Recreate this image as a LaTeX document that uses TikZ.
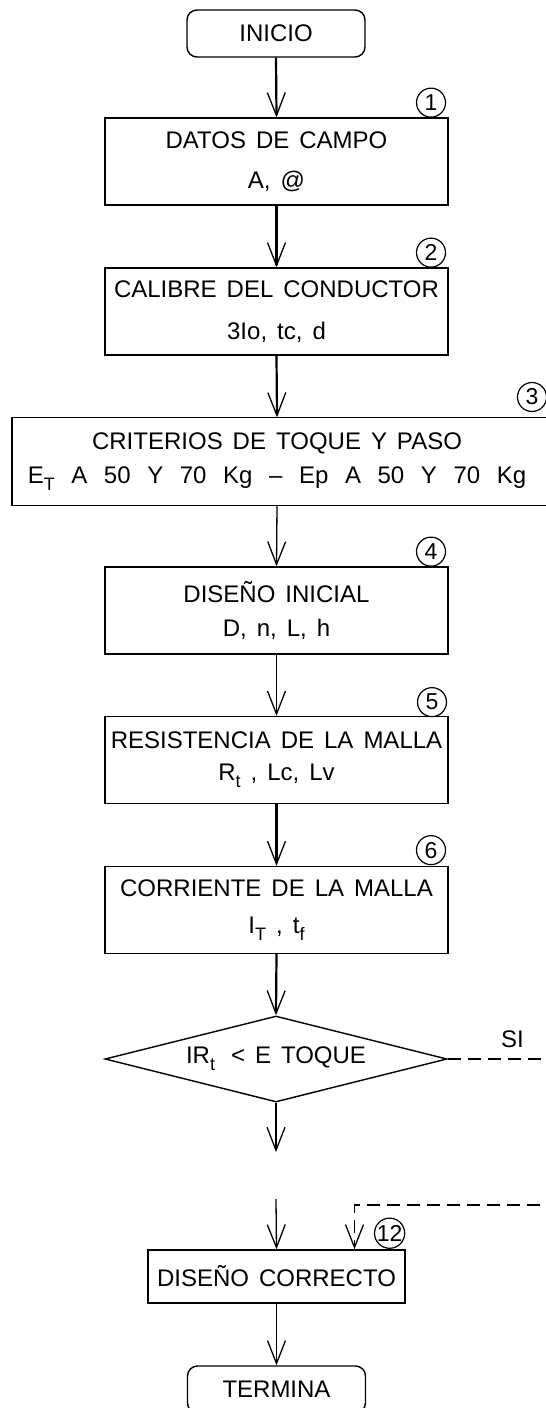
\documentclass[tikz,border=0pt]{standalone}
\usepackage{fontspec}
\setmainfont[WordSpace=1.5]{Liberation Sans}
\usepackage{tikz}
\usetikzlibrary{positioning,arrows.meta,shapes.geometric,calc}
\newcommand{\subtxt}[1]{\raisebox{-0.55ex}{\fontsize{9pt}{9pt}\selectfont #1}}

\begin{document}
\begin{tikzpicture}[
    x=0.5pt, y=-0.5pt,
    txt/.style={font=\fontsize{12pt}{17pt}\selectfont},
    proc/.style={draw, line width=0.7pt, minimum width=171.5pt, minimum height=43.5pt, inner sep=0pt, align=center, txt},
    term/.style={draw, line width=0.7pt, rounded corners=5pt, minimum width=89pt, minimum height=23.5pt, inner sep=0pt, txt},
    decision/.style={draw, line width=0.7pt, diamond, aspect=4, minimum width=171pt, minimum height=43pt, inner sep=0pt, txt},
    num/.style={draw, circle, line width=0.6pt, minimum size=14.5pt, inner sep=0pt, font=\fontsize{11.5pt}{12pt}\selectfont},
    arr/.style={-{Straight Barb[length=11.5pt,width=9pt,line width=0.65pt]}, line width=#1},
    arr/.default=0.65pt,
    dasharr/.style={line width=0.6pt, dash pattern=on 6.5pt off 3.5pt},
]
\useasboundingbox[fill=white] (0,0) rectangle (546,1408);
\clip (0,0) rectangle (546,1408);

% ===== BOXES =====
\node[term] (inicio) at (276, 33.5) {INICIO};
\node[proc] (datos) at (276.5, 161.5) {DATOS DE CAMPO\\[3pt] A, @};
\node[proc] (calibre) at (276.5, 311.5) {CALIBRE DEL CONDUCTOR\\[4pt] 3Io, tc, d};
\node[proc, draw=none, minimum width=264.3pt] (criterios) at (277, 461.5)
    {CRITERIOS DE TOQUE Y PASO\\ {\spaceskip=8.3pt E\subtxt{T} A 50 Y 70 Kg -- Ep A 50 Y 70 Kg}};
\draw[line width=0.7pt] (criterios.north west) rectangle ([xshift=25pt]criterios.south east);
\node[proc] (inicial) at (276.5, 610.5) {DISEÑO INICIAL\\ D, n, L, h};
\node[proc] (resist) at (276.5, 760) {RESISTENCIA DE LA MALLA\\[-1pt] R\subtxt{t} , Lc, Lv};
\node[proc] (corriente) at (276.5, 910) {CORRIENTE DE LA MALLA\\[1.5pt] I\subtxt{T} , t\subtxt{f}};
\node[decision] (toque) at (276, 1059) {IR\subtxt{t}\hspace{8pt}< E TOQUE};
\node[proc, minimum width=128.5pt, minimum height=26.5pt] (correcto) at (276.5, 1276.5) {DISEÑO CORRECTO};
\node[term] (termina) at (276.5, 1389.5) {TERMINA};

% step numbers
\node[num, above left=2pt and 3.5pt of datos.north east] (n1) {1};
\node[num, above left=2pt and 3.5pt of calibre.north east] (n2) {2};
\node[num] (n3) at (532, 397) {3};
\node[num, above left=2pt and 3.5pt of inicial.north east] (n4) {4};
\node[num, above left=1.5pt and 3pt of resist.north east] (n5) {5};
\node[num, above left=2.5pt and 3.5pt of corriente.north east] (n6) {6};
\node[num, minimum size=15pt, above left=2.5pt and 2.5pt of correcto.north east] (n12) {12};

\coordinate (cut) at (276, 1152);
\coordinate (resume) at (276, 1199);
\coordinate (siout) at (600, 1059);
\coordinate (ret) at (600, 1205);

% ===== ARROWS =====
\draw[arr=1.1pt] (inicio.south) -- (datos.north);
\draw[arr=1.1pt] (datos.south) -- (calibre.north);
\draw[arr=1.1pt] (calibre.south) -- (criterios.north);
\draw[arr] (criterios.south) -- (inicial.north);
\draw[arr] (inicial.south) -- (resist.north);
\draw[arr=1.1pt] (resist.south) -- (corriente.north);
\draw[arr=1.1pt] (corriente.south) -- (toque.north);
\draw[arr] (toque.south) -- (cut);
\draw[arr] (resume) -- (correcto.north);
\draw[arr] (correcto.south) -- (termina.north);
\draw[dasharr] (toque.east) -- (siout) node[txt, pos=0.425, above=2pt] (si) {SI};
\draw[dasharr, arr] (ret) -| ([xshift=39pt]correcto.north);

\end{tikzpicture}
\end{document}
